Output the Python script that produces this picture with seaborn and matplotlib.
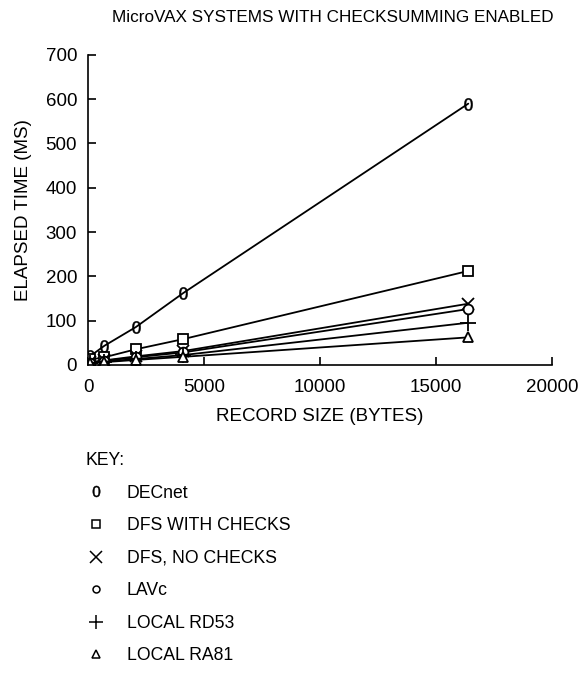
import numpy as np
import pandas as pd
import matplotlib
matplotlib.use("Agg")
import matplotlib.pyplot as plt
import seaborn as sns
from matplotlib.lines import Line2D

record_sizes = [100, 700, 2048, 4096, 16384]
series_names = ["DECnet", "DFS WITH CHECKS", "DFS, NO CHECKS", "LAVc", "LOCAL RD53", "LOCAL RA81"]
decnet = [20, 43, 85, 162, 590]
dfs_checks = [12, 17, 35, 58, 212]
dfs_nochecks = [6, 10, 19, 31, 138]
lavc = [5, 9, 17, 28, 126]
rd53 = [4, 7, 13, 22, 95]
ra81 = [3, 6, 11, 18, 62]
values = [decnet, dfs_checks, dfs_nochecks, lavc, rd53, ra81]

x_ticks = [0, 5000, 10000, 15000, 20000]
y_ticks = [0, 100, 200, 300, 400, 500, 600, 700]

rows = []
for name, vals in zip(series_names, values):
    for x, y in zip(record_sizes, vals):
        rows.append({"size": x, "time": y, "series": name})
df = pd.DataFrame(rows)

sns.set_theme(style="ticks")
plt.rcParams["font.family"] = ["Liberation Sans", "DejaVu Sans"]
plt.rcParams["text.color"] = "black"
plt.rcParams["axes.labelcolor"] = "black"
plt.rcParams["xtick.color"] = "black"
plt.rcParams["ytick.color"] = "black"

markers = {
    "DECnet": "$0$",
    "DFS WITH CHECKS": "s",
    "DFS, NO CHECKS": "x",
    "LAVc": "o",
    "LOCAL RD53": "+",
    "LOCAL RA81": "^",
}
msizes = {"DECnet": 9, "DFS WITH CHECKS": 7, "DFS, NO CHECKS": 9, "LAVc": 7,
          "LOCAL RD53": 11, "LOCAL RA81": 7}
mews = {"DECnet": 0.3, "DFS WITH CHECKS": 1.3, "DFS, NO CHECKS": 1.3, "LAVc": 1.3,
        "LOCAL RD53": 1.3, "LOCAL RA81": 1.3}
mfcs = {n: ("black" if n == "DECnet" else "white") for n in series_names}

fig = plt.figure(figsize=(5.8, 6.87), dpi=100)
ax = fig.add_axes([0.152, 0.469, 0.80, 0.451])

for name in series_names:
    sub = df[df["series"] == name]
    sns.lineplot(data=sub, x="size", y="time", color="black", linewidth=1.3,
                 marker=markers[name], markersize=msizes[name],
                 markerfacecolor=mfcs[name], markeredgecolor="black",
                 markeredgewidth=mews[name], legend=False, ax=ax)

ax.set_xlim(0, 20000)
ax.set_ylim(0, 700)
ax.set_xticks(x_ticks)
ax.set_yticks(y_ticks)
ax.tick_params(direction="in", length=6, width=1.2, labelsize=13.5, colors="black")
ax.tick_params(axis="x", pad=10)
ax.tick_params(axis="y", pad=8)
sns.despine(ax=ax)
for s in ["left", "bottom"]:
    ax.spines[s].set_linewidth(1.2)
    ax.spines[s].set_color("black")
ax.set_xlabel("RECORD SIZE (BYTES)", fontsize=13.5, labelpad=9)
ax.set_ylabel("ELAPSED TIME (MS)", fontsize=13.5, labelpad=10)
ax.set_title("MicroVAX SYSTEMS WITH CHECKSUMMING ENABLED", fontsize=12.3, pad=24, x=0.528)

handles = [Line2D([], [], linestyle="none", marker=markers[n],
                  markersize=msizes[n] - (1 if n != "LAVc" else 2),
                  markerfacecolor=mfcs[n], markeredgecolor="black",
                  markeredgewidth=(0.3 if n == "DECnet" else 1.1), color="black")
           for n in series_names]
leg = fig.legend(handles, series_names, loc="upper left", bbox_to_anchor=(0.12, 0.365),
                 frameon=False, title="KEY:", fontsize=12.7, title_fontsize=12.7,
                 labelspacing=0.88, handletextpad=1.15, handlelength=1.2)
leg._legend_box.align = "left"

fig.savefig("out.png", dpi=100, facecolor="white")
